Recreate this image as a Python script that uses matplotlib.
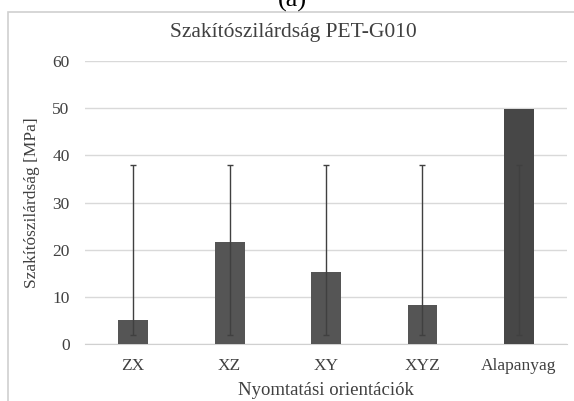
import matplotlib.pyplot as plt
from matplotlib.patches import Rectangle

# adatok
categories = ['ZX', 'XZ', 'XY', 'XYZ', 'Alapanyag']
strength = [5.0, 21.6, 15.3, 8.2, 49.9]
err_low = [2.0, 2.0, 2.0, 2.0, 2.0]
err_high = [38.0, 38.0, 38.0, 38.0, 38.0]
bar_colors = ['#555555', '#555555', '#555555', '#555555', '#474747']

plt.rcParams['font.family'] = ['Liberation Serif', 'DejaVu Serif']

fig = plt.figure(figsize=(5.74, 4.01), dpi=100)
ax = fig.add_axes([0.148, 0.142, 0.84, 0.706])

# diagram keret
fig.patches.append(Rectangle((8 / 574, -0.1), 1.2, 1 - 12 / 401 + 0.1,
                             transform=fig.transFigure, fill=False,
                             edgecolor='#d0d0d0', linewidth=1.2))

x = list(range(len(categories)))
ax.bar(x, strength, width=0.31, color=bar_colors, zorder=2)
ax.vlines(x, err_low, err_high, color='#404040', linewidth=1, zorder=3)
ax.plot(x, err_low, linestyle='none', marker='_', markersize=5,
        color='#404040', zorder=3)
ax.plot(x, err_high, linestyle='none', marker='_', markersize=5,
        color='#404040', zorder=3)

ax.set_xlim(-0.5, len(categories) - 0.5)
ax.set_ylim(0, 60)
ax.set_yticks([0, 10, 20, 30, 40, 50, 60])
ax.set_xticks(x)
ax.set_xticklabels(categories)
ax.grid(axis='y', color='#d9d9d9', linewidth=1, zorder=0)
ax.set_axisbelow(True)
for s in ['top', 'right', 'left']:
    ax.spines[s].set_visible(False)
ax.spines['bottom'].set_color('#d0d0d0')
ax.spines['bottom'].set_zorder(1)
ax.tick_params(length=0, labelsize=12.5, labelcolor='#404040')
ax.tick_params(axis='y', pad=11)
ax.tick_params(axis='x', pad=10)

ax.set_ylabel('Szakítószilárdság [MPa]', fontsize=12.5, color='#404040',
              labelpad=9)
ax.set_xlabel('Nyomtatási orientációk', fontsize=13.5, color='#404040',
              labelpad=6)
fig.text(293 / 574, 1 - 32 / 401, 'Szakítószilárdság PET-G010', ha='center',
         va='center', fontsize=15.5, color='#404040')
fig.text(292 / 574, 1.0, '(a)', ha='center', va='center', fontsize=19,
         color='black')

fig.savefig('out.png', dpi=100)
